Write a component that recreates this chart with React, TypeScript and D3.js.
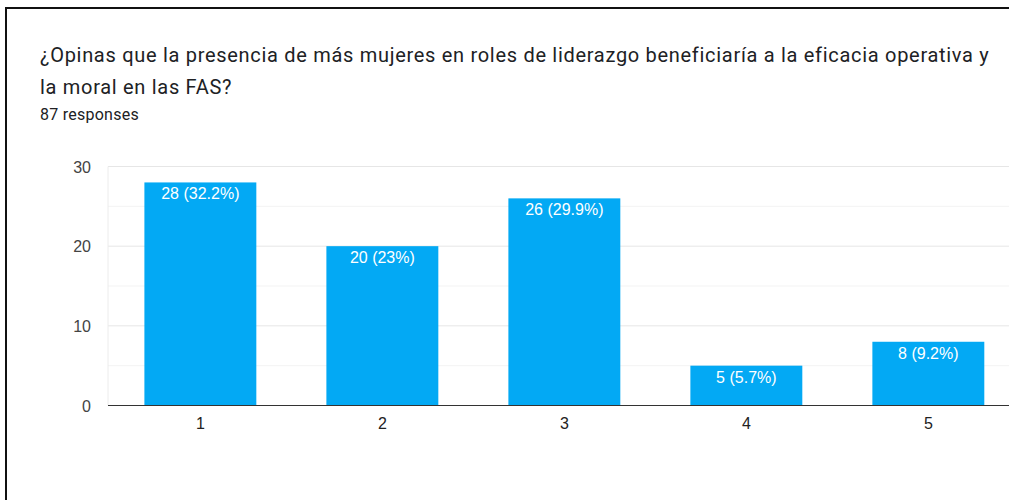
import React from "react";
import * as d3 from "d3";

const titleLines = [
  "¿Opinas que la presencia de más mujeres en roles de liderazgo beneficiaría a la eficacia operativa y",
  "la moral en las FAS?",
];
const responsesLabel = "87 responses";
const categories = ["1", "2", "3", "4", "5"];
const counts = [28, 20, 26, 5, 8];
const percents = ["32.2%", "23%", "29.9%", "5.7%", "9.2%"];
const yTicks = [0, 10, 20, 30];
const yMinorTicks = [5, 15, 25];

const W = 1009;
const H = 500;
const titleFont = "Roboto, 'Noto Sans', sans-serif";
const chartFont = "'Liberation Sans', Arial, sans-serif";

const App = () => {
  const y = d3.scaleLinear().domain([0, 30]).range([405.5, 166.5]);
  const x = d3
    .scaleBand()
    .domain(categories)
    .range([108, 1020.7])
    .paddingInner(0.385)
    .paddingOuter(0.2);

  return (
    <svg
      width={W}
      height={H}
      style={{ position: "absolute", left: 0, top: 0, background: "#fff" }}
    >
      {/* card border */}
      <path d={`M6,${H} L6,8 L${W},8`} fill="none" stroke="#111" strokeWidth={2} />

      <g fontFamily={titleFont} fill="#202124">
        <text x={40} y={62} fontSize={20} letterSpacing={0.7}>
          {titleLines[0]}
        </text>
        <text x={40} y={94} fontSize={20} letterSpacing={0.7}>
          {titleLines[1]}
        </text>
        <text x={40} y={120} fontSize={16} letterSpacing={0.25}>
          {responsesLabel}
        </text>
      </g>

      {/* grid */}
      {yMinorTicks.map((t) => (
        <line key={"m" + t} x1={108} x2={W} y1={y(t)} y2={y(t)} stroke="#f3f3f3" />
      ))}
      {yTicks.map((t) => (
        <line key={"g" + t} x1={108} x2={W} y1={y(t)} y2={y(t)} stroke="#e6e6e6" />
      ))}
      <line x1={108} x2={108} y1={y(30)} y2={y(0)} stroke="#ececec" />

      <g fontFamily={chartFont} fontSize={16}>
        {yTicks.map((t) => (
          <text key={"t" + t} x={91} y={y(t) + 6} fill="#444" textAnchor="end">
            {t}
          </text>
        ))}

        {categories.map((c, i) => (
          <g key={c}>
            <rect
              x={x(c)}
              y={y(counts[i])}
              width={x.bandwidth()}
              height={y(0) - y(counts[i])}
              fill="#03a9f4"
            />
            <text
              x={(x(c) as number) + x.bandwidth() / 2}
              y={y(counts[i]) + 17}
              fill="#fff"
              textAnchor="middle"
            >
              {`${counts[i]} (${percents[i]})`}
            </text>
            <text
              x={(x(c) as number) + x.bandwidth() / 2}
              y={429}
              fill="#222"
              textAnchor="middle"
            >
              {c}
            </text>
          </g>
        ))}
      </g>

      <line x1={108} x2={W} y1={y(0)} y2={y(0)} stroke="#333" />
    </svg>
  );
};

export default App;
